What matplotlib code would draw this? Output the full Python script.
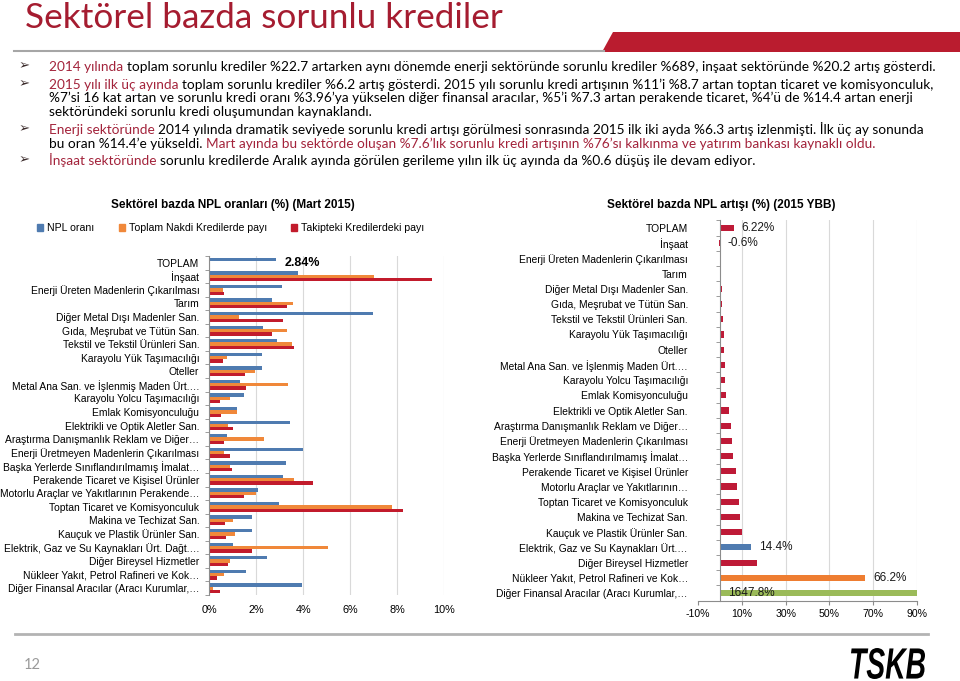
import numpy as np
import matplotlib.pyplot as plt
from matplotlib.patches import Polygon, Patch, PathPatch
from matplotlib.lines import Line2D
from matplotlib.textpath import TextPath
from matplotlib.font_manager import FontProperties
from matplotlib.transforms import Affine2D

W, H = 960, 681


def fx(x):
    return x / W


def fy(y):
    return 1 - y / H


sectors_left = [
    "TOPLAM",
    "İnşaat",
    "Enerji Üreten Madenlerin Çıkarılması",
    "Tarım",
    "Diğer Metal Dışı Madenler San.",
    "Gıda, Meşrubat ve Tütün San.",
    "Tekstil ve Tekstil Ürünleri San.",
    "Karayolu Yük Taşımacılığı",
    "Oteller",
    "Metal Ana San. ve İşlenmiş Maden Ürt.…",
    "Karayolu Yolcu Taşımacılığı",
    "Emlak Komisyonculuğu",
    "Elektrikli ve Optik Aletler San.",
    "Araştırma Danışmanlık Reklam ve Diğer…",
    "Enerji Üretmeyen Madenlerin Çıkarılması",
    "Başka Yerlerde Sınıflandırılmamış İmalat…",
    "Perakende Ticaret ve Kişisel Ürünler",
    "Motorlu Araçlar ve Yakıtlarının Perakende…",
    "Toptan Ticaret ve Komisyonculuk",
    "Makina ve Techizat San.",
    "Kauçuk ve Plastik Ürünler San.",
    "Elektrik, Gaz ve Su Kaynakları Ürt. Dağt.…",
    "Diğer Bireysel Hizmetler",
    "Nükleer Yakıt, Petrol Rafineri ve Kok…",
    "Diğer Finansal Aracılar (Aracı Kurumlar,…",
]

npl_ratio = [2.84, 3.80, 3.09, 2.68, 6.98, 2.31, 2.88, 2.24, 2.27, 1.33, 1.50, 1.18, 3.44,
             0.76, 4.01, 3.29, 3.16, 2.07, 2.99, 1.84, 1.84, 1.03, 2.45, 1.57, 3.97]
share_cash = [np.nan, 7.03, 0.58, 3.56, 1.27, 3.33, 3.54, 0.75, 1.94, 3.37, 0.88, 1.18, 0.82,
              2.35, 0.64, 0.89, 3.63, 2.00, 7.78, 1.03, 1.09, 5.04, 0.91, 0.65, 0.15]
share_npl = [np.nan, 9.46, 0.65, 3.33, 3.13, 2.69, 3.61, 0.58, 1.54, 1.57, 0.45, 0.50, 1.00,
             0.64, 0.89, 0.96, 4.43, 1.47, 8.23, 0.67, 0.71, 1.81, 0.81, 0.35, 0.47]
left_ticks = [0, 2, 4, 6, 8, 10]

sectors_right = list(sectors_left)
sectors_right[17] = "Motorlu Araçlar ve Yakıtlarının…"
sectors_right[21] = "Elektrik, Gaz ve Su Kaynakları Ürt.…"

npl_growth = [6.22, -0.6, 0.0, 0.5, 1.0, 1.0, 1.3, 1.7, 1.7, 2.3, 2.3, 2.9, 4.1,
              4.9, 5.7, 6.1, 7.3, 8.0, 8.7, 9.0, 9.9, 14.4, 16.9, 66.2, 1647.8]
labelled = ["TOPLAM", "İnşaat", "Elektrik, Gaz ve Su Kaynakları Ürt.…",
            "Nükleer Yakıt, Petrol Rafineri ve Kok…", "Diğer Finansal Aracılar (Aracı Kurumlar,…"]
right_ticks = [-10, 10, 30, 50, 70, 90]

legend_labels = ["NPL oranı", "Toplam Nakdi Kredilerde payı", "Takipteki Kredilerdeki payı"]

title = "Sektörel bazda sorunlu krediler"
left_title = "Sektörel bazda NPL oranları (%) (Mart 2015)"
right_title = "Sektörel bazda NPL artışı (%) (2015 YBB)"

TXT_RED = "#a3233b"
BLUE = "#4f7bb0"
ORANGE = "#f0883a"
RED = "#c21b2c"
RED2 = "#be1a37"
highlight = {
    "Elektrik, Gaz ve Su Kaynakları Ürt.…": "#4f7bb0",
    "Nükleer Yakıt, Petrol Rafineri ve Kok…": "#ee7d31",
    "Diğer Finansal Aracılar (Aracı Kurumlar,…": "#9bbb59",
}

bullets = [
    (66, True, [("2014 yılında", TXT_RED),
                ("toplam sorunlu krediler %22.7 artarken aynı dönemde enerji sektöründe sorunlu krediler %689, inşaat sektöründe %20.2 artış gösterdi.", "black")]),
    (84, True, [("2015 yılı ilk üç ayında", TXT_RED),
                ("toplam sorunlu krediler %6.2 artış gösterdi. 2015 yılı sorunlu kredi artışının %11’i %8.7 artan toptan ticaret ve komisyonculuk,", "black")]),
    (97.5, False, [("%7’si 16 kat artan ve sorunlu kredi oranı %3.96’ya yükselen diğer finansal aracılar, %5’i %7.3 artan perakende ticaret, %4’ü de %14.4 artan enerji", "black")]),
    (111, False, [("sektöründeki sorunlu kredi oluşumundan kaynaklandı.", "black")]),
    (129, True, [("Enerji sektöründe", TXT_RED),
                 ("2014 yılında dramatik seviyede sorunlu kredi artışı görülmesi sonrasında 2015 ilk iki ayda %6.3 artış izlenmişti. İlk üç ay sonunda", "black")]),
    (142.5, False, [("bu oran %14.4’e yükseldi.", "black"),
                    ("Mart ayında bu sektörde oluşan %7.6’lık sorunlu kredi artışının %76’sı kalkınma ve yatırım bankası kaynaklı oldu.", TXT_RED)]),
    (160, True, [("İnşaat sektöründe", TXT_RED),
                 ("sorunlu kredilerde Aralık ayında görülen gerileme yılın ilk üç ayında da %0.6 düşüş ile devam ediyor.", "black")]),
]

BODY = "Lato"
CHART = "Liberation Sans"
BODY_SIZE = 9.85
LABEL_SIZE = 7.4

fig = plt.figure(figsize=(9.6, 6.81), dpi=100)
bg = fig.add_axes([0, 0, 1, 1])
bg.axis("off")
bg.set_zorder(-1)

# header
bg.text(fx(25), fy(28), title, color="#a51c30", fontsize=25.3, family=BODY,
        va="baseline", ha="left", transform=bg.transAxes)
band = Polygon([[fx(613), fy(32)], [fx(960), fy(32)], [fx(960), fy(52)], [fx(602), fy(52)]],
               closed=True, transform=bg.transAxes, facecolor="#ba1c2f", edgecolor="none")
bg.add_patch(band)
bg.add_line(Line2D([fx(14), fx(604)], [fy(51), fy(51)], color="#a6a6a6", lw=1.5,
                   transform=bg.transAxes))

# bullet text, segments chained left to right
for yc, has_arrow, parts in bullets:
    if has_arrow:
        bg.text(fx(19), fy(yc), "➢", fontsize=9.5, family="DejaVu Sans", color="#3a2a2a",
                va="center", ha="left", transform=bg.transAxes)
    prev = None
    for txt, col in parts:
        if prev is None:
            prev = bg.text(fx(49), fy(yc + 7), txt, color=col, fontsize=BODY_SIZE, family=BODY,
                           va="bottom", ha="left", transform=bg.transAxes)
        else:
            prev = bg.annotate(txt, xy=(1, 0), xycoords=prev, xytext=(3.4, 0),
                               textcoords="offset pixels", color=col, fontsize=BODY_SIZE,
                               family=BODY, va="bottom", ha="left")

# left chart
bg.text(fx(233), fy(205), left_title, fontsize=8.5, fontweight="bold", family=CHART,
        ha="center", va="center", transform=bg.transAxes)

axl = fig.add_axes([fx(209), fy(595), (444.3 - 209) / W, (595 - 256) / H])
y = np.arange(len(sectors_left))
h = 0.245
axl.barh(y - h, npl_ratio, height=h, color=BLUE, label=legend_labels[0])
axl.barh(y, share_cash, height=h, color=ORANGE, label=legend_labels[1])
axl.barh(y + h, share_npl, height=h, color=RED, label=legend_labels[2])
axl.set_xlim(0, 10)
axl.set_ylim(len(sectors_left) - 0.5, -0.5)
axl.set_xticks(left_ticks)
axl.set_xticklabels([f"{t}%" for t in left_ticks], fontsize=7.8, family=CHART)
axl.set_yticks(y)
axl.set_yticklabels(sectors_left, fontsize=LABEL_SIZE, family=CHART)
axl.set_yticks(np.arange(-0.5, len(sectors_left), 1), minor=True)
axl.tick_params(axis="y", which="major", length=0, pad=7)
axl.tick_params(axis="y", which="minor", length=3, color="#8c8c8c")
axl.tick_params(axis="x", length=0, pad=7)
axl.grid(axis="x", color="#d9d9d9", lw=0.8)
axl.set_axisbelow(True)
for s in ["top", "right", "bottom"]:
    axl.spines[s].set_visible(False)
axl.spines["left"].set_color("#8c8c8c")
axl.annotate(f"{npl_ratio[0]:.2f}%", xy=(npl_ratio[0], y[0]), xytext=(9, 0),
             textcoords="offset pixels", va="center", ha="left", fontsize=9,
             fontweight="bold", family=CHART)

handles = [Patch(color=c) for c in [BLUE, ORANGE, RED]]
fig.legend(handles, legend_labels, loc="center left", bbox_to_anchor=(fx(37), fy(228)),
           ncol=3, frameon=False, handlelength=0.6, handleheight=0.6, handletextpad=0.35,
           columnspacing=2.3, borderpad=0, borderaxespad=0,
           prop={"family": CHART, "size": 7.6})

# right chart
bg.text(fx(721), fy(205), right_title, fontsize=8.5, fontweight="bold", family=CHART,
        ha="center", va="center", transform=bg.transAxes)

axr = fig.add_axes([fx(698), fy(600.6), 219 / W, 380.2 / H])
axr.spines["left"].set_position(("data", 0))
yr = np.arange(len(sectors_right))
colors = [highlight.get(s, RED2) for s in sectors_right]
axr.barh(yr, npl_growth, height=0.4, color=colors)
axr.set_xlim(-10, 90)
axr.set_ylim(len(sectors_right) - 0.5, -0.5)
axr.set_xticks(right_ticks)
axr.set_xticklabels([f"{t}%" for t in right_ticks], fontsize=7.6, family=CHART)
axr.set_yticks(yr)
axr.set_yticklabels(sectors_right, fontsize=LABEL_SIZE, family=CHART)
axr.set_yticks(np.arange(-0.5, len(sectors_right), 1), minor=True)
axr.tick_params(axis="y", which="major", length=0, pad=23)
axr.tick_params(axis="y", which="minor", length=3, color="#8c8c8c")
axr.tick_params(axis="x", length=3, color="#8c8c8c", pad=3)
axr.grid(axis="x", color="#d9d9d9", lw=0.8)
axr.get_xgridlines()[0].set_visible(False)
axr.set_axisbelow(True)
for s in ["top", "right"]:
    axr.spines[s].set_visible(False)
axr.spines["left"].set_color("#8c8c8c")
axr.spines["bottom"].set_color("#8c8c8c")

for i, (name, v) in enumerate(zip(sectors_right, npl_growth)):
    if name not in labelled:
        continue
    x_anchor = v if 0 < v < 90 else 0
    axr.annotate(f"{v:g}%", xy=(x_anchor, i), xytext=(8, 0), textcoords="offset pixels",
                 va="center", ha="left", fontsize=8.5, family=CHART, color="#1a1a1a",
                 annotation_clip=False)

# footer
bg.add_line(Line2D([fx(15), fx(928)], [fy(634), fy(634)], color="#b3b3b3", lw=2,
                   transform=bg.transAxes))
bg.text(fx(24), fy(665), "12", fontsize=10.5, family=BODY, color="#9a9a9a",
        va="center", ha="left", transform=bg.transAxes)

# logo text squeezed into its box
logo = TextPath((0, 0), "TSKB", size=1,
                prop=FontProperties(family=CHART, weight="bold", style="italic"))
ext = logo.get_extents()
logo_tr = (Affine2D().translate(-ext.x0, -ext.y0)
           .scale(74 / ext.width / W, 31 / ext.height / H)
           .translate(fx(851), fy(679)) + bg.transAxes)
bg.add_patch(PathPatch(logo, transform=logo_tr, facecolor="black", edgecolor="none"))

fig.savefig("out.png", dpi=100)
